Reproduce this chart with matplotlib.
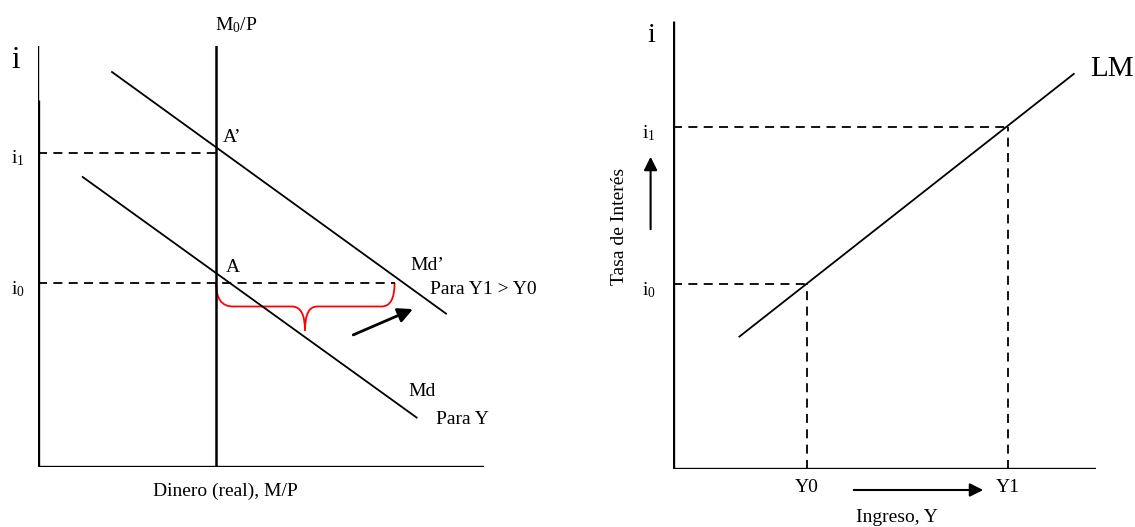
import matplotlib.pyplot as plt
from matplotlib.path import Path
from matplotlib.patches import PathPatch

plt.rcParams["font.family"] = ["Liberation Serif", "DejaVu Serif"]
plt.rcParams["mathtext.fontset"] = "custom"
plt.rcParams["mathtext.rm"] = "Liberation Serif"
plt.rcParams["mathtext.it"] = "Liberation Serif:italic"

# ============================================================
# Data (diagram units)
# ============================================================

# left panel: money market
money_supply = 17.8
left_i0 = 18.4
left_i1 = 31.45
md_x = [4.47, 37.87]
md_y = [29.0, 4.94]
mdp_x = [7.4, 40.8]
mdp_y = [39.5, 15.34]
i0_line_end = 35.66
shift_arrow_x = [31.27, 37.75]
shift_arrow_y = [13.1, 15.9]

# right panel: LM curve
lm_x = [6.64, 40.08]
lm_y = [13.24, 39.51]
income_levels = [13.4, 33.48]
income_labels = ["Y0", "Y1"]
right_i = [18.5, 34.2]
right_i_labels = ["i$_0$", "i$_1$"]

W, H = 1135, 527
fig = plt.figure(figsize=(W / 100, H / 100), dpi=100)


def add_panel(x0, y0, x1, y1):
    ax = fig.add_axes([x0 / W, 1 - y0 / H, (x1 - x0) / W, (y0 - y1) / H])
    ax.set_xlim(0, (x1 - x0) / 10)
    ax.set_ylim(0, (y0 - y1) / 10)
    ax.axis("off")
    return ax


dash = dict(color="black", lw=1.3, linestyle=(0, (5, 3.5)))
fs = 14

# ============================================================
# Left panel
# ============================================================

ax1 = add_panel(38, 467, 484, 46)
ymax1 = (467 - 46) / 10

ax1.plot([0, 0], [0, (467 - 100) / 10], color="black", lw=2.4, solid_capstyle="butt")
ax1.plot([0, 0], [(467 - 100) / 10, ymax1], color="black", lw=1.0)
ax1.plot([0, 44.6], [0, 0], color="black", lw=2.4, solid_capstyle="butt")
ax1.plot([money_supply, money_supply], [0, ymax1], color="black", lw=1.8)

ax1.plot([0, money_supply], [left_i1, left_i1], **dash)
ax1.plot([0, i0_line_end], [left_i0, left_i0], **dash)

ax1.plot(md_x, md_y, color="black", lw=1.3)
ax1.plot(mdp_x, mdp_y, color="black", lw=1.3)

# red brace under the i0 line
bl, br = money_supply, i0_line_end
mid = 30.5 - 3.8
flat = left_i0 - 2.35
tip = left_i0 - 4.75
verts = [
    (bl, left_i0), (bl, flat), (bl + 1.7, flat),
    (mid - 1.3, flat),
    (mid, flat), (mid, tip),
    (mid, flat), (mid + 1.2, flat),
    (br - 1.3, flat),
    (br, flat), (br, left_i0),
]
codes = [
    Path.MOVETO, Path.CURVE3, Path.CURVE3,
    Path.LINETO,
    Path.CURVE3, Path.CURVE3,
    Path.CURVE3, Path.CURVE3,
    Path.LINETO,
    Path.CURVE3, Path.CURVE3,
]
ax1.add_patch(PathPatch(Path(verts, codes), facecolor="none", edgecolor="red", lw=1.3))

ax1.annotate(
    "",
    xy=(shift_arrow_x[1], shift_arrow_y[1]),
    xytext=(shift_arrow_x[0], shift_arrow_y[0]),
    arrowprops=dict(arrowstyle="-|>", color="black", lw=2, mutation_scale=22),
)

ax1.text(-2.2, 40.6, "i", fontsize=22, ha="center", va="center", clip_on=False)
ax1.text(-2.0, left_i1 - 0.6, "i$_1$", fontsize=fs, ha="center", va="center", clip_on=False)
ax1.text(-2.0, left_i0 - 0.6, "i$_0$", fontsize=fs, ha="center", va="center", clip_on=False)
ax1.text(money_supply + 2.0, 44.2, "M$_0$/P", fontsize=fs, ha="center", va="center", clip_on=False)
ax1.text(18.5, 33.0, "A’", fontsize=fs, ha="left", va="center")
ax1.text(18.8, 19.9, "A", fontsize=fs, ha="left", va="center")
ax1.text(37.2, 20.1, "Md’", fontsize=fs, ha="left", va="center")
ax1.text(39.2, 17.7, "Para Y1 > Y0", fontsize=fs, ha="left", va="center")
ax1.text(37.0, 7.6, "Md", fontsize=fs, ha="left", va="center")
ax1.text(39.8, 4.7, "Para Y", fontsize=fs, ha="left", va="center")
ax1.text(18.7, -2.45, "Dinero (real), M/P", fontsize=fs, ha="center", va="center", clip_on=False)

# ============================================================
# Right panel
# ============================================================

ax2 = add_panel(673, 469, 1096, 21)
ymax2 = (469 - 21) / 10

ax2.plot([0, 0], [0, ymax2], color="black", lw=2.4, solid_capstyle="butt")
ax2.plot([0, 42.3], [0, 0], color="black", lw=2.4, solid_capstyle="butt")

ax2.plot(lm_x, lm_y, color="black", lw=1.3)

for y_val, i_val, y_lab, i_lab in zip(income_levels, right_i, income_labels, right_i_labels):
    ax2.plot([0, y_val], [i_val, i_val], **dash)
    ax2.plot([y_val, y_val], [0, i_val], **dash)
    ax2.text(y_val, -1.9, y_lab, fontsize=fs, ha="center", va="center", clip_on=False)
    ax2.text(-2.4, i_val - 0.6, i_lab, fontsize=fs, ha="center", va="center", clip_on=False)

ax2.text(-2.2, 43.3, "i", fontsize=20, ha="center", va="center", clip_on=False)
ax2.text(43.9, 40.0, "LM", fontsize=21, ha="center", va="center", clip_on=False)
ax2.text(-5.4, 24.3, "Tasa de Interés", fontsize=fs, rotation=90,
         ha="center", va="center", clip_on=False)
ax2.text(22.4, -4.85, "Ingreso, Y", fontsize=fs, ha="center", va="center", clip_on=False)

ax2.annotate(
    "",
    xy=(-2.24, 31.5), xytext=(-2.24, 23.7),
    arrowprops=dict(arrowstyle="-|>", color="black", lw=1.5, mutation_scale=20),
    annotation_clip=False,
)
ax2.annotate(
    "",
    xy=(31.3, -2.1), xytext=(17.8, -2.1),
    arrowprops=dict(arrowstyle="-|>", color="black", lw=1.5, mutation_scale=20),
    annotation_clip=False,
)

fig.savefig("out.png", dpi=100, facecolor="white")
